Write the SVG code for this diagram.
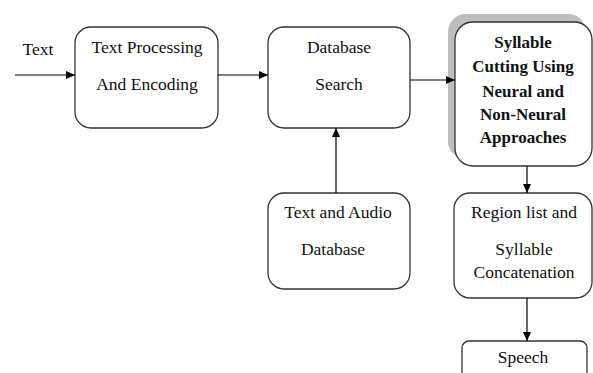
<svg xmlns="http://www.w3.org/2000/svg" width="593" height="373" viewBox="0 0 593 373">
<defs>
<marker id="ah" markerWidth="10" markerHeight="8" refX="9" refY="4" orient="auto" markerUnits="userSpaceOnUse">
<path d="M0,0 L9,4 L0,8 Z" fill="#000"/>
</marker>
<style>
.box{fill:#fff;stroke:#333;stroke-width:1.3}
text{font-family:'Liberation Serif','Times New Roman',Times,serif;fill:#111;text-anchor:middle}
.t{font-size:17.5px}
.b{font-size:17px;font-weight:bold}
.c{stroke:#000;stroke-width:1.2;fill:none;marker-end:url(#ah)}
</style>
</defs>
<rect width="593" height="373" fill="#fff"/>
<g id="input-label"><text class="t" x="38" y="55">Text</text></g>
<g id="text-processing">
<rect class="box" x="75" y="27" width="143" height="101" rx="16"/>
<text class="t" x="147" y="53">Text Processing</text>
<text class="t" x="147" y="90">And Encoding</text>
</g>
<g id="database-search">
<rect class="box" x="268" y="27" width="142" height="101" rx="16"/>
<text class="t" x="339" y="53">Database</text>
<text class="t" x="339" y="90">Search</text>
</g>
<g id="syllable-cutting">
<rect x="448" y="14" width="138" height="145" rx="18" fill="#bdbdbd"/>
<rect class="box" x="455" y="22" width="137" height="144" rx="18"/>
<text class="b" x="523" y="48">Syllable</text>
<text class="b" x="523" y="72">Cutting Using</text>
<text class="b" x="523" y="97">Neural and</text>
<text class="b" x="523" y="120">Non-Neural</text>
<text class="b" x="523" y="143">Approaches</text>
</g>
<g id="text-audio-db">
<rect class="box" x="268" y="193" width="142" height="96" rx="16"/>
<text class="t" x="338" y="218">Text and Audio</text>
<text class="t" x="333" y="255">Database</text>
</g>
<g id="region-list">
<rect class="box" x="454" y="193" width="138" height="105" rx="16"/>
<text class="t" x="524" y="218">Region list and</text>
<text class="t" x="524" y="255">Syllable</text>
<text class="t" x="524" y="278">Concatenation</text>
</g>
<g id="speech">
<rect class="box" x="462" y="341" width="125" height="50" rx="7"/>
<text class="t" x="523" y="363">Speech</text>
</g>
<g id="connectors">
<line class="c" x1="15" y1="75" x2="75" y2="75"/>
<line class="c" x1="218" y1="75" x2="268" y2="75"/>
<line class="c" x1="410" y1="80" x2="455" y2="80"/>
<line class="c" x1="336" y1="193" x2="336" y2="128"/>
<line class="c" x1="527" y1="166" x2="527" y2="193"/>
<line class="c" x1="527" y1="298" x2="527" y2="341"/>
</g>
</svg>
